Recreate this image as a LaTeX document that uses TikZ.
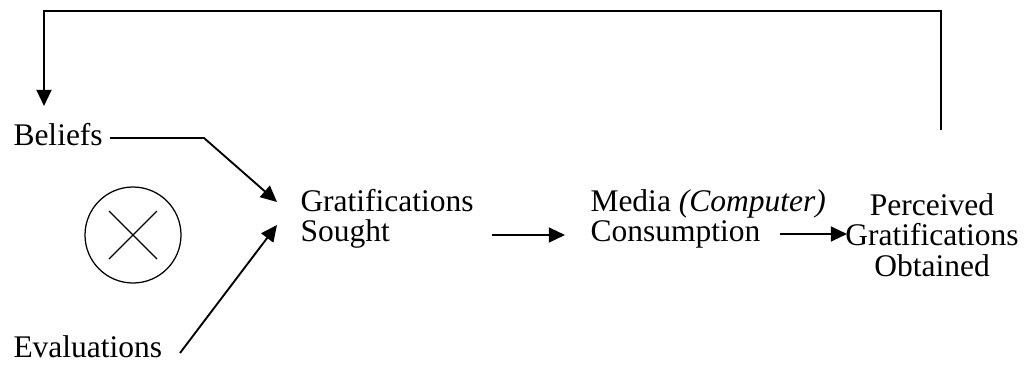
\documentclass[tikz,border=0pt]{standalone}
\usepackage{fontspec}
\setmainfont{Liberation Serif}
\usetikzlibrary{arrows.meta}
\begin{document}
\begin{tikzpicture}[x=0.4pt,y=-0.4pt,
  txt/.style={inner sep=0pt,font=\fontsize{12.6}{12.2}\selectfont},
  conn/.style={line width=0.75pt},
  thin conn/.style={line width=0.5pt},
  arr/.style={conn,-{Triangle[length=6.5pt,width=6pt]}}]
\useasboundingbox (0,0) rectangle (1027,367);
% nodes
\node[txt,anchor=west] (beliefs) at (13,135) {Beliefs};
\node[txt,anchor=west] (evals) at (13,347) {Evaluations};
\node[draw,circle,thin conn,minimum size=38.4pt,inner sep=0pt] (mult) at (133,235) {};
\draw[thin conn] ([shift={(-24,-24)}]mult.center) -- ([shift={(24,24)}]mult.center);
\draw[thin conn] ([shift={(-24,24)}]mult.center) -- ([shift={(24,-24)}]mult.center);
\node[txt,anchor=west,align=left] (gs) at (300,219) {Gratifications\\Sought};
\node[txt,anchor=west,align=left] (mc) at (590,219) {Media \textit{(Computer)}\\Consumption};
\node[txt,anchor=center,align=center] (pgo) at (932,235) {Perceived\\Gratifications\\Obtained};
% free ends
\coordinate (bbend) at (204,138);
\coordinate (gsin1) at (277,202);
\coordinate (gsin2) at (277,225);
\coordinate (evstart) at (180,353);
\coordinate (fbstart) at (941,130);
\coordinate (fbtr) at (941,11);
\coordinate (fbtl) at (44,11);
\coordinate (fbend) at (44,106);
\coordinate (gsout) at (492,235);
\coordinate (mcin) at (565,235);
\coordinate (mcout) at (780,234);
\coordinate (pgoin) at (847,234);
% connectors
\draw[arr] ([xshift=2.8pt]beliefs.east |- bbend) -- (bbend) -- (gsin1);
\draw[arr] (evstart) -- (gsin2);
\draw[arr] (gsout) -- (mcin);
\draw[arr] (mcout) -- (pgoin);
\draw[arr] (fbstart) -- (fbtr) -- (fbtl) -- (fbend);
\end{tikzpicture}
\end{document}
